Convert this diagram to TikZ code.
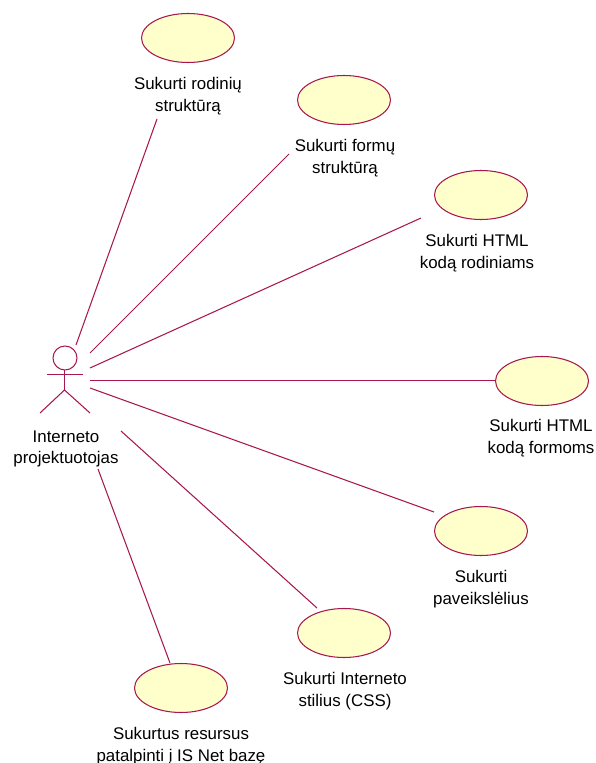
\documentclass[tikz,border=0pt]{standalone}
\usepackage{xcolor}
\usepackage{fontspec}
\setmainfont{Liberation Sans}
\usetikzlibrary{shapes.geometric}

\definecolor{umlline}{HTML}{A8174F}
\definecolor{umlfill}{HTML}{FFFFCB}

\begin{document}
\begin{tikzpicture}[x=0.02cm, y=-0.02cm,
    usecase/.style={draw=umlline, fill=umlfill, ellipse, line width=0.6pt, minimum width=1.86cm, minimum height=0.98cm, inner sep=0pt},
    caption/.style={align=center, font=\fontsize{9.6}{12.2}\selectfont, inner sep=0pt},
    link/.style={draw=umlline, line width=0.6pt}]
\useasboundingbox (0,0) rectangle (595,763);

\node[usecase] (usecase_0) at (188,38) {};
\node[usecase] (usecase_1) at (344,100) {};
\node[usecase] (usecase_2) at (481,195) {};
\node[usecase] (usecase_3) at (542,381) {};
\node[usecase] (usecase_4) at (481,531) {};
\node[usecase] (usecase_5) at (344,633) {};
\node[usecase] (usecase_6) at (181,688) {};

\node[caption] (caption_0) at (188,96) {Sukurti rodinių\\struktūrą};
\node[caption] (caption_1) at (345,158) {Sukurti formų\\struktūrą};
\node[caption] (caption_2) at (477,253) {Sukurti HTML\\kodą rodiniams};
\node[caption] (caption_3) at (541,438) {Sukurti HTML\\kodą formoms};
\node[caption] (caption_4) at (481,589) {Sukurti\\paveikslėlius};
\node[caption] (caption_5) at (345,691) {Sukurti Interneto\\stilius (CSS)};
\node[caption] (caption_6) at (181,746) {Sukurtus resursus\\patalpinti į IS Net bazę};
\node[caption] (caption_actor) at (66,449) {Interneto\\projektuotojas};

% actor
\node[draw=umlline, circle, line width=0.6pt, minimum size=0.48cm, inner sep=0pt] (head) at (65,358) {};
\coordinate (arm_l) at (47,374.5);
\coordinate (arm_r) at (83,374.5);
\coordinate (neck) at (64.5,370);
\coordinate (hip) at (64.5,390);
\coordinate (foot_l) at (40,413);
\coordinate (foot_r) at (90,413);
\draw[link] (arm_l) -- (arm_r);
\draw[link] (neck) -- (hip);
\draw[link] (foot_l) -- (hip) -- (foot_r);

\coordinate (from_0) at (76,345);
\coordinate (from_1) at (90,353);
\coordinate (from_2) at (90,368);
\coordinate (from_3) at (90,380.5);
\coordinate (from_4) at (90,388);
\coordinate (from_5) at (121,431);
\coordinate (from_6) at (98,469);
\coordinate (to_0) at (157,119);
\coordinate (to_1) at (289,154);
\coordinate (to_2) at (421,218);
\coordinate (to_3) at (496,380.5);
\coordinate (to_4) at (434,512);
\coordinate (to_5) at (317,608);
\coordinate (to_6) at (170,663);

\draw[link] (from_0) -- (to_0);
\draw[link] (from_1) -- (to_1);
\draw[link] (from_2) -- (to_2);
\draw[link] (from_3) -- (to_3);
\draw[link] (from_4) -- (to_4);
\draw[link] (from_5) -- (to_5);
\draw[link] (from_6) -- (to_6);

\end{tikzpicture}
\end{document}
